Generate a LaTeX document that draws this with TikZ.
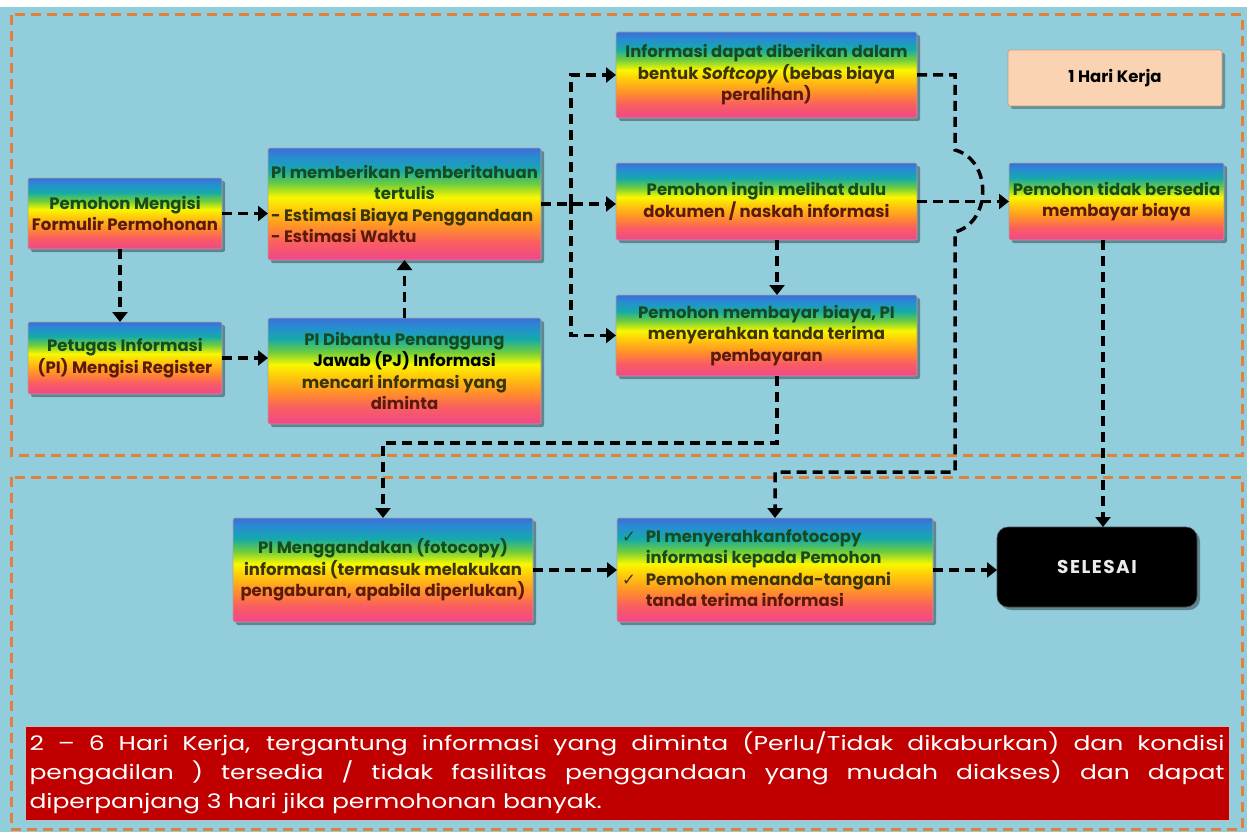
\documentclass[tikz,border=0pt]{standalone}
\usepackage{fontspec}
\setmainfont{Poppins}
\newfontfamily\bannerfont{Poppins}[FakeStretch=1.25]
\newfontfamily\symfont{DejaVu Sans}
\usetikzlibrary{arrows.meta,shadows,calc}
\definecolor{bgblue}{HTML}{92CDDC}
\definecolor{frameor}{HTML}{E0823C}
\definecolor{cpink}{RGB}{240,70,140}
\definecolor{cred}{RGB}{250,95,95}
\definecolor{corange}{RGB}{255,145,40}
\definecolor{cyo}{RGB}{255,205,10}
\definecolor{cyellow}{RGB}{248,248,0}
\definecolor{cgreen}{RGB}{110,205,60}
\definecolor{cteal}{RGB}{20,170,170}
\definecolor{cbt}{RGB}{40,140,210}
\definecolor{cblue}{RGB}{60,110,215}
\definecolor{tg}{HTML}{174A1C}
\definecolor{to}{HTML}{3A3408}
\definecolor{tr}{HTML}{5C1A0E}
\definecolor{peach}{RGB}{250,212,178}
\definecolor{bannerred}{HTML}{C00000}
\pgfdeclareverticalshading{rainbow}{100bp}{color(0bp)=(cpink); color(25bp)=(cpink); color(33bp)=(cred); color(40bp)=(corange); color(48bp)=(cyo); color(53bp)=(cyellow); color(59bp)=(cgreen); color(65bp)=(cteal); color(71bp)=(cbt); color(75bp)=(cblue); color(100bp)=(cblue)}
\begin{document}
\begin{tikzpicture}[x=1pt,y=-1pt,
  box/.style={shade, shading=rainbow, draw=black!35, line width=0.6pt, rounded corners=2pt,
    inner sep=2pt, outer sep=0pt, align=center,
    font=\fontsize{16.5}{21.5}\selectfont\bfseries,
    drop shadow={shadow xshift=3pt, shadow yshift=-3pt, opacity=0.35, fill=black}},
  flow/.style={black, line width=3.5pt, dash pattern=on 10pt off 6pt,
    -{Triangle[width=15pt,length=10pt]}},
  framebox/.style={draw=frameor, line width=3pt, dash pattern=on 10pt off 6pt}]
\useasboundingbox (0,0) rectangle (1247,832);
\fill[bgblue] (0,0) rectangle (1247,832);
\fill[white] (0,0) rectangle (1247,7);
\draw[framebox] (11,15) rectangle (1242,455);
\draw[framebox] (11,477) rectangle (1242,829);

% nodes
\node[box, minimum width=194pt, minimum height=71pt] (A) at (125,213.5)
  {\color{tg}Pemohon Mengisi\\\color{tr}Formulir Permohonan};
\node[box, minimum width=194pt, minimum height=72pt] (C) at (125,358)
  {\color{tg}Petugas Informasi\\\color{tr}(PI) Mengisi Register};
\node[box, minimum width=273pt, minimum height=112pt] (B) at (404.5,204)
  {\parbox{267pt}{\centering\color{tg}PI memberikan Pemberitahuan\\tertulis\par\raggedright\color{to}- Estimasi Biaya Penggandaan\\\color{tr}- Estimasi Waktu}};
\node[box, minimum width=273pt, minimum height=106pt] (D) at (404.5,371)
  {\color{tg}PI Dibantu Penanggung\\Jawab (PJ) Informasi\\\color{to}mencari informasi yang\\\color{tr}diminta};
\node[box, minimum width=301pt, minimum height=86pt] (E) at (766.5,75)
  {\color{tg}Informasi dapat diberikan dalam\\\color{to}bentuk \textit{Softcopy} (bebas biaya\\\color{tr}peralihan)};
\node[box, minimum width=301pt, minimum height=77pt] (F) at (766.5,201.5)
  {\color{tg}Pemohon ingin melihat dulu\\\color{tr}dokumen / naskah informasi};
\node[box, minimum width=301pt, minimum height=81pt] (G) at (766.5,335.5)
  {\color{tg}Pemohon membayar biaya, PI\\\color{to}menyerahkan tanda terima\\\color{tr}pembayaran};
\node[fill=peach, draw=peach!75!black, line width=0.6pt, rounded corners=2pt,
  minimum width=214pt, minimum height=56pt,
  font=\fontsize{16.5}{21}\selectfont\bfseries,
  drop shadow={shadow xshift=3pt, shadow yshift=-3pt, opacity=0.3, fill=black}] (H) at (1115,78) {1 Hari Kerja};
\node[box, minimum width=215pt, minimum height=77pt] (I) at (1116.5,201.5)
  {\color{tg}Pemohon tidak bersedia\\\color{tr}membayar biaya};
\node[box, minimum width=300pt, minimum height=104pt] (J) at (383,570)
  {\color{tg}PI Menggandakan (fotocopy)\\\color{to}informasi (termasuk melakukan\\\color{tr}pengaburan, apabila diperlukan)};
\node[box, minimum width=316pt, minimum height=104pt] (K) at (775,570)
  {\parbox{306pt}{\raggedright
   \begin{tabular}{@{}l@{\hspace{10pt}}l@{}}
   {\symfont\mdseries\color{tg}✓} & \color{tg}PI menyerahkanfotocopy\\
    & \color{tg}informasi kepada Pemohon\\
   {\symfont\mdseries\color{to}✓} & \color{to}Pemohon menanda-tangani\\
    & \color{tr}tanda terima informasi
   \end{tabular}}};
\node[fill=black, draw=black!70, line width=0.6pt, rounded corners=11pt,
  minimum width=200pt, minimum height=80pt, outer sep=0pt,
  text=white!92!black, font=\fontsize{18.5}{22}\selectfont\bfseries,
  drop shadow={shadow xshift=3pt, shadow yshift=-3pt, opacity=0.35, fill=black}] (L) at (1097,567)
  {\addfontfeature{LetterSpace=8}SELESAI};
\node[fill=bannerred, draw=black!25, line width=0.5pt, minimum width=1204pt, minimum height=94pt,
  inner xsep=4.5pt, text=white,
  font=\bannerfont\fontsize{20}{29}\selectfont] (note) at (627,773)
  {\parbox{1195pt}{\makebox[1195pt][s]{2 – 6 Hari Kerja, tergantung informasi yang diminta (Perlu/Tidak dikaburkan) dan kondisi}\\
  \makebox[1195pt][s]{pengadilan ) tersedia / tidak fasilitas penggandaan yang mudah diakses) dan dapat}\\
  diperpanjang 3 hari jika permohonan banyak.}};

% coordinates
\coordinate (br) at (571,204);
\coordinate (hopT) at (955,150);
\coordinate (hopB) at (955,232);
\coordinate (ek) at (955,472);
\coordinate (gj) at (777,443);

% connectors
\draw[flow] (A.east) -- (A.east -| B.west);
\draw[flow] ([xshift=-5pt]A.south) -- ([xshift=-5pt]C.north);
\draw[flow] (C.east) -- (C.east -| D.west);
\draw[flow] (D.north) -- (B.south);
\draw[flow] (B.east) -- (B.east -| F.west);
\draw[flow] (br) |- (E.west);
\draw[flow] (br) |- (G.west);
\draw[flow] ([xshift=10.5pt]F.south) -- ([xshift=10.5pt]G.north);
\draw[flow] (F.east) -- (F.east -| I.west);
\draw[flow] (E.east) -| (hopT) .. controls (992,160) and (992,222) .. (hopB) -- (ek) -| (K.north);
\draw[flow] ([xshift=10.5pt]G.south) -- (gj) -| (J.north);
\draw[flow] ([xshift=-13.5pt]I.south) -- ([xshift=6pt]L.north);
\draw[flow] (J.east) -- (K.west);
\draw[flow] (K.east) -- (K.east -| L.west);
\end{tikzpicture}
\end{document}
